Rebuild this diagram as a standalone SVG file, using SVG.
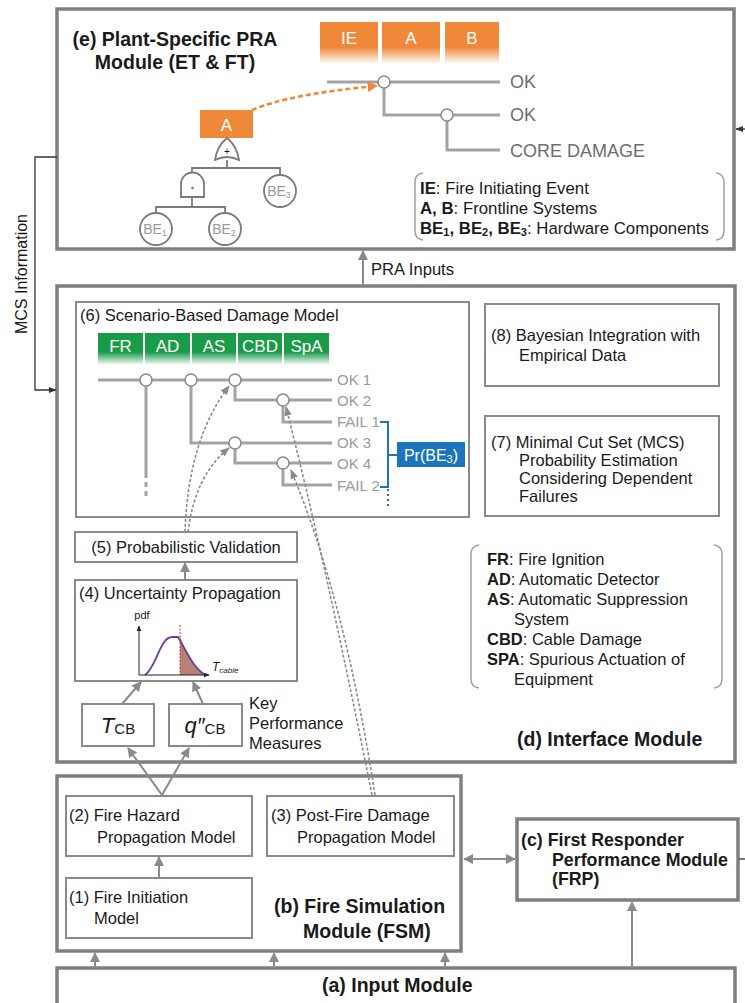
<svg xmlns="http://www.w3.org/2000/svg" width="745" height="1003" viewBox="0 0 745 1003">
<style>
text{font-family:"Liberation Sans",Arial,sans-serif;fill:#1a1a1a}
.mod{fill:none;stroke:#7f7f7f;stroke-width:3.5}
.box{fill:#fff;stroke:#8a8a8a;stroke-width:2}
.t{font-size:16.5px}
.b{font-weight:bold;font-size:19.5px}
.tree{fill:none;stroke:#a3a3a3;stroke-width:3}
.node{fill:#fff;stroke:#8a8a8a;stroke-width:1.5}
.lbl{font-size:15px;fill:#9a9a9a}
.etl{font-size:18px;fill:#6e6e6e}
.hdr{font-size:17px;fill:#fff;text-anchor:middle}
.ft{fill:#fff;stroke:#7a7a7a;stroke-width:1.8}
.ftl{fill:none;stroke:#7a7a7a;stroke-width:1.8}
.be{font-size:14px;fill:#999;text-anchor:middle}
.arr{fill:none;stroke:#8a8a8a;stroke-width:2}
.dash{fill:none;stroke:#8a8a8a;stroke-width:1.6;stroke-dasharray:3 2}
.blk{fill:none;stroke:#333;stroke-width:1.3}
.brk{fill:none;stroke:#a0a0a0;stroke-width:1.5}
.leg{font-size:16.8px}
</style>
<defs>
<linearGradient id="og" x1="0" y1="0" x2="0" y2="1"><stop offset="0" stop-color="#f0883a"/><stop offset="0.6" stop-color="#f0883a"/><stop offset="1" stop-color="#f0883a" stop-opacity="0"/></linearGradient>
<linearGradient id="gg" x1="0" y1="0" x2="0" y2="1"><stop offset="0" stop-color="#1a9b48"/><stop offset="0.6" stop-color="#1a9b48"/><stop offset="1" stop-color="#1a9b48" stop-opacity="0"/></linearGradient>
<marker id="ah" viewBox="0 0 10 10" refX="9" refY="5" markerWidth="5" markerHeight="5" orient="auto-start-reverse"><path d="M0,0 L10,5 L0,10 z" fill="#8a8a8a"/></marker>
<marker id="ahd" viewBox="0 0 10 10" refX="9" refY="5" markerWidth="6" markerHeight="6" orient="auto"><path d="M0,1 L10,5 L0,9 z" fill="#8a8a8a"/></marker>
<marker id="ahk" viewBox="0 0 10 10" refX="9" refY="5" markerWidth="6" markerHeight="6" orient="auto"><path d="M0,1 L10,5 L0,9 z" fill="#333"/></marker>
<marker id="aho" viewBox="0 0 10 10" refX="8" refY="5" markerWidth="4" markerHeight="4" orient="auto"><path d="M0,0 L10,5 L0,10 z" fill="#f0883a"/></marker>
<marker id="ahs" viewBox="0 0 10 10" refX="9" refY="5" markerWidth="6" markerHeight="6" orient="auto"><path d="M0,1 L10,5 L0,9 z" fill="#222"/></marker>
</defs>
<rect width="745" height="1003" fill="#fff"/>

<!-- (e) Plant-Specific PRA Module -->
<g id="module-e">
<rect class="mod" x="57" y="9" width="677" height="240"/>
<text class="b" x="175" y="46" text-anchor="middle">(e) Plant-Specific PRA</text>
<text class="b" x="175" y="69" text-anchor="middle">Module (ET &amp; FT)</text>
<rect x="320" y="22" width="58" height="42" fill="url(#og)"/>
<rect x="382" y="22" width="58" height="42" fill="url(#og)"/>
<rect x="445" y="22" width="54" height="42" fill="url(#og)"/>
<text class="hdr" x="349" y="44">IE</text>
<text class="hdr" x="411" y="44">A</text>
<text class="hdr" x="472" y="44">B</text>
<path class="tree" d="M327 82 H500 M384 88 V115 H441 M453 115 H500 M447 121 V150 H500"/>
<circle class="node" cx="384" cy="82" r="6"/>
<circle class="node" cx="447" cy="115" r="6"/>
<text class="etl" x="510" y="88">OK</text>
<text class="etl" x="510" y="121">OK</text>
<text class="etl" x="510" y="157">CORE DAMAGE</text>
<rect x="200" y="110" width="53" height="28" fill="#f0883a"/>
<text class="hdr" x="226.5" y="131" font-size="18">A</text>
<path class="ftl" d="M227 160 V168 M192 172 V168 H280 V176 M192 197 V207 M156 212 V207 H225 V212"/>
<path class="ft" d="M215 160 Q217 146 227 138 Q237 146 239 160 Q227 154 215 160 Z"/>
<text x="227" y="155" font-size="10" fill="#888" text-anchor="middle">+</text>
<path class="ft" d="M181 197 V184 A11.5 11.5 0 0 1 204 184 V197 Z"/>
<circle cx="192.5" cy="188" r="1.3" fill="#777"/>
<circle class="ft" cx="156" cy="229" r="16"/>
<circle class="ft" cx="225" cy="229" r="16"/>
<circle class="ft" cx="280" cy="191" r="16"/>
<text class="be" x="155" y="234">BE<tspan font-size="9" dy="2">1</tspan></text>
<text class="be" x="224" y="234">BE<tspan font-size="9" dy="2">2</tspan></text>
<text class="be" x="279" y="196">BE<tspan font-size="9" dy="2">3</tspan></text>
<path d="M252 110 Q290 94 376 86" fill="none" stroke="#f0883a" stroke-width="2.6" stroke-dasharray="5 3" marker-end="url(#aho)"/>
<path class="brk" d="M423 173 Q415 174 415 182 V231 Q415 239 423 240 M716 173 Q724 174 724 182 V231 Q724 239 716 240"/>
<text class="leg" x="420" y="194"><tspan font-weight="bold">IE</tspan>: Fire Initiating Event</text>
<text class="leg" x="420" y="214"><tspan font-weight="bold">A, B</tspan>: Frontline Systems</text>
<text class="leg" x="420" y="234"><tspan font-weight="bold">BE<tspan font-size="11" dy="2">1</tspan><tspan dy="-2">, BE</tspan><tspan font-size="11" dy="2">2</tspan><tspan dy="-2">, BE</tspan><tspan font-size="11" dy="2">3</tspan></tspan><tspan dy="-2">: Hardware Components</tspan></text>
</g>

<!-- (d) Interface Module -->
<g id="module-d">
<rect class="mod" x="57" y="286" width="678" height="476"/>
<text class="b" x="517" y="746">(d) Interface Module</text>
</g>

<g id="node-6">
<rect class="box" x="76" y="302" width="393" height="215"/>
<text class="t" x="80" y="321">(6) Scenario-Based Damage Model</text>
<rect x="98" y="333" width="45" height="32" fill="url(#gg)"/>
<rect x="145" y="333" width="45" height="32" fill="url(#gg)"/>
<rect x="192" y="333" width="44" height="32" fill="url(#gg)"/>
<rect x="238" y="333" width="44" height="32" fill="url(#gg)"/>
<rect x="284" y="333" width="45" height="32" fill="url(#gg)"/>
<text class="hdr" x="120.5" y="352" font-size="16.5">FR</text>
<text class="hdr" x="167.5" y="352" font-size="16.5">AD</text>
<text class="hdr" x="214" y="352" font-size="16.5">AS</text>
<text class="hdr" x="260" y="352" font-size="16.5">CBD</text>
<text class="hdr" x="306.5" y="352" font-size="16.5">SpA</text>
<path class="tree" d="M98 380 H332 M146 386 V478 M191 386 V443 H229 M241 443 H332 M235 386 V400 H277 M289 400 H332 M283 406 V422 H332 M235 449 V463 H277 M289 463 H332 M283 469 V485 H332"/>
<path class="tree" d="M146 482 V498" stroke-dasharray="5 4"/>
<circle class="node" cx="146" cy="380" r="6"/>
<circle class="node" cx="191" cy="380" r="6"/>
<circle class="node" cx="235" cy="380" r="6"/>
<circle class="node" cx="283" cy="400" r="6"/>
<circle class="node" cx="235" cy="443" r="6"/>
<circle class="node" cx="283" cy="463" r="6"/>
<text class="lbl" x="337" y="385">OK 1</text>
<text class="lbl" x="337" y="406">OK 2</text>
<text class="lbl" x="337" y="427">FAIL 1</text>
<text class="lbl" x="337" y="448">OK 3</text>
<text class="lbl" x="337" y="469">OK 4</text>
<text class="lbl" x="337" y="491">FAIL 2</text>
<path d="M380 422 H388 V487 H380 M388 455 H397" fill="none" stroke="#1c75bc" stroke-width="2"/>
<path d="M388 489 V507" fill="none" stroke="#1c75bc" stroke-width="2" stroke-dasharray="2 3"/>
<rect x="397" y="442" width="68" height="25" fill="#1c75bc"/>
<text x="431" y="461" font-size="16" style="fill:#fff" text-anchor="middle">Pr(BE<tspan font-size="11" dy="2">3</tspan><tspan dy="-2">)</tspan></text>
</g>

<g id="node-8">
<rect class="box" x="485" y="304" width="234" height="82"/>
<text class="t" x="491" y="341">(8) Bayesian Integration with</text>
<text class="t" x="519" y="361">Empirical Data</text>
</g>

<g id="node-7">
<rect class="box" x="485" y="416" width="234" height="100"/>
<text class="t" x="491" y="448">(7) Minimal Cut Set (MCS)</text>
<text class="t" x="519" y="466">Probability Estimation</text>
<text class="t" x="519" y="484">Considering Dependent</text>
<text class="t" x="519" y="502">Failures</text>
</g>

<g id="legend-d">
<path class="brk" d="M479 545 Q471 546 471 554 V679 Q471 687 479 688 M714 545 Q722 546 722 554 V679 Q722 687 714 688"/>
<text class="t" x="487" y="565"><tspan font-weight="bold">FR</tspan>: Fire Ignition</text>
<text class="t" x="487" y="585"><tspan font-weight="bold">AD</tspan>: Automatic Detector</text>
<text class="t" x="487" y="605"><tspan font-weight="bold">AS</tspan>: Automatic Suppression</text>
<text class="t" x="514" y="625">System</text>
<text class="t" x="487" y="645"><tspan font-weight="bold">CBD</tspan>: Cable Damage</text>
<text class="t" x="487" y="665"><tspan font-weight="bold">SPA</tspan>: Spurious Actuation of</text>
<text class="t" x="514" y="685">Equipment</text>
</g>

<g id="node-5">
<rect class="box" x="75" y="532" width="222" height="30"/>
<text class="t" x="186" y="553" text-anchor="middle">(5) Probabilistic Validation</text>
</g>

<g id="node-4">
<rect class="box" x="75" y="580" width="222" height="101"/>
<text class="t" x="79" y="599">(4) Uncertainty Propagation</text>
<text x="142" y="619" font-size="11" text-anchor="middle">pdf</text>
<path d="M180 637 C186 652 194 670 206 675 L180 675 Z" fill="#b88077"/>
<path d="M145 675 C156 668 160 637 172 637 L178 637 C186 650 194 670 206 675" fill="none" stroke="#6a3d9a" stroke-width="1.8"/>
<path d="M180 625 V675" stroke="#d03030" stroke-width="1" stroke-dasharray="2 1.5"/>
<path d="M139 675 H209" stroke="#222" stroke-width="1" fill="none" marker-end="url(#ahs)"/>
<path d="M139 675 V626" stroke="#222" stroke-width="1" fill="none" marker-end="url(#ahs)"/>
<text x="212" y="671" font-size="12" font-style="italic">T<tspan font-size="8" dy="2">cable</tspan></text>
</g>

<g id="node-tcb">
<rect class="box" x="82" y="704" width="72" height="42"/>
<text x="118" y="733" font-size="22" text-anchor="middle"><tspan font-style="italic">T</tspan><tspan font-size="15" dy="1">CB</tspan></text>
</g>
<g id="node-qcb">
<rect class="box" x="169" y="704" width="73" height="42"/>
<text x="205" y="733" font-size="22" text-anchor="middle"><tspan font-style="italic">q″</tspan><tspan font-size="15" dy="1">CB</tspan></text>
</g>
<text class="t" x="249" y="709">Key</text>
<text class="t" x="249" y="729">Performance</text>
<text class="t" x="249" y="749">Measures</text>

<!-- (b) Fire Simulation Module -->
<g id="module-b">
<rect class="mod" x="57" y="776" width="404" height="175"/>
<text class="b" x="274" y="913">(b) Fire Simulation</text>
<text class="b" x="303" y="938">Module (FSM)</text>
</g>
<g id="node-2">
<rect class="box" x="66" y="796" width="186" height="60"/>
<text class="t" x="69" y="821">(2) Fire Hazard</text>
<text class="t" x="97" y="843">Propagation Model</text>
</g>
<g id="node-3">
<rect class="box" x="267" y="796" width="187" height="60"/>
<text class="t" x="271" y="821">(3) Post-Fire Damage</text>
<text class="t" x="297" y="843">Propagation Model</text>
</g>
<g id="node-1">
<rect class="box" x="66" y="878" width="186" height="60"/>
<text class="t" x="69" y="903">(1) Fire Initiation</text>
<text class="t" x="94" y="924">Model</text>
</g>

<!-- (c) -->
<g id="module-c">
<rect class="mod" x="517" y="819" width="221" height="81"/>
<text x="521" y="846" font-size="17.8" font-weight="bold">(c) First Responder</text>
<text x="552" y="866" font-size="17.8" font-weight="bold">Performance Module</text>
<text x="552" y="885" font-size="17.8" font-weight="bold">(FRP)</text>
</g>

<!-- (a) -->
<g id="module-a">
<rect class="mod" x="57" y="968" width="678" height="45"/>
<text class="b" x="322" y="992">(a) Input Module</text>
</g>

<!-- MCS label -->
<text x="27" y="274" font-size="16" text-anchor="middle" transform="rotate(-90 27 274)">MCS Information</text>
<text x="371" y="275" font-size="16.6">PRA Inputs</text>

<g id="connectors">
<path class="arr" d="M363 285 V251" marker-end="url(#ah)"/>
<path class="blk" d="M57 157 H35 V390 H56" marker-end="url(#ahk)"/>
<path class="blk" d="M745 129 H736" marker-end="url(#ahk)"/>
<path class="blk" d="M739 859 H745"/>
<path class="arr" d="M185 580 V563" marker-end="url(#ah)"/>
<path class="arr" d="M122 704 L141 682" marker-end="url(#ah)"/>
<path class="arr" d="M203 704 L193 682" marker-end="url(#ah)"/>
<path class="arr" d="M162 795 L128 748" marker-end="url(#ah)"/>
<path class="arr" d="M162 795 L189 748" marker-end="url(#ah)"/>
<path class="arr" d="M159 878 V857" marker-end="url(#ah)"/>
<path class="arr" d="M464 859 H515" marker-end="url(#ah)" marker-start="url(#ah)"/>
<path class="arr" d="M95 968 V953" marker-end="url(#ah)"/>
<path class="arr" d="M274 968 V953" marker-end="url(#ah)"/>
<path class="arr" d="M445 968 V953" marker-end="url(#ah)"/>
<path class="arr" d="M632 968 V902" marker-end="url(#ah)"/>
<path class="dash" d="M185 532 Q188 440 229 386" marker-end="url(#ahd)"/>
<path class="dash" d="M188 532 Q195 475 229 448" marker-end="url(#ahd)"/>
<path class="dash" d="M372 795 Q325 560 286 407" marker-end="url(#ahd)"/>
<path class="dash" d="M375 795 Q345 600 291 470" marker-end="url(#ahd)"/>
</g>
</svg>
